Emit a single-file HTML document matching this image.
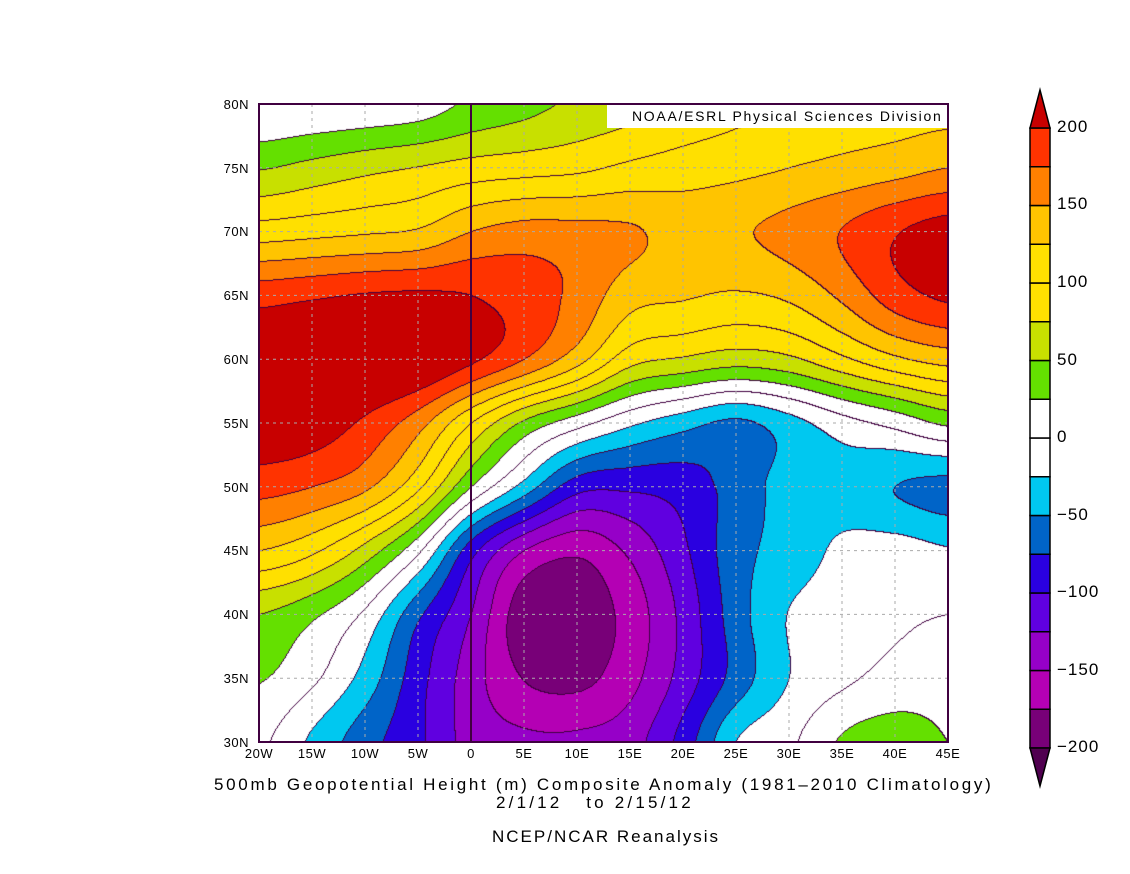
<!DOCTYPE html>
<html><head><meta charset="utf-8"><style>
body{margin:0;background:#fff;width:1130px;height:874px;position:relative;overflow:hidden;font-family:"Liberation Sans",sans-serif;}
.t{position:absolute;color:#000;white-space:nowrap;}
.yl{position:absolute;right:881px;font-size:13px;letter-spacing:0.5px;}
.xl{position:absolute;top:746px;font-size:13px;transform:translateX(-50%);letter-spacing:0.5px;}
.cl{position:absolute;left:1057px;font-size:17px;letter-spacing:1px;}
</style></head><body>
<canvas id="c" width="689" height="638" style="position:absolute;left:259px;top:104px"></canvas>
<svg width="1130" height="874" style="position:absolute;left:0;top:0">
<g id="grid" stroke="#aaa" stroke-dasharray="3,4" stroke-width="1"></g>
<line x1="471" y1="104" x2="471" y2="742" stroke="#400040" stroke-width="2"/>
<rect x="259" y="104" width="689" height="638" fill="none" stroke="#400040" stroke-width="2"/>
<rect x="607" y="105" width="340" height="23" fill="#fff"/>
<g id="cb"></g>
</svg>
<div class="t" style="left:632px;top:108px;font-size:14px;letter-spacing:1.7px">NOAA/ESRL Physical Sciences Division</div>
<div class="yl" style="top:97px">80N</div><div class="yl" style="top:161px">75N</div><div class="yl" style="top:224px">70N</div><div class="yl" style="top:288px">65N</div><div class="yl" style="top:352px">60N</div><div class="yl" style="top:416px">55N</div><div class="yl" style="top:480px">50N</div><div class="yl" style="top:543px">45N</div><div class="yl" style="top:607px">40N</div><div class="yl" style="top:671px">35N</div><div class="yl" style="top:735px">30N</div>
<div class="xl" style="left:259px">20W</div><div class="xl" style="left:312px">15W</div><div class="xl" style="left:365px">10W</div><div class="xl" style="left:418px">5W</div><div class="xl" style="left:471px">0</div><div class="xl" style="left:524px">5E</div><div class="xl" style="left:577px">10E</div><div class="xl" style="left:630px">15E</div><div class="xl" style="left:683px">20E</div><div class="xl" style="left:736px">25E</div><div class="xl" style="left:789px">30E</div><div class="xl" style="left:842px">35E</div><div class="xl" style="left:895px">40E</div><div class="xl" style="left:948px">45E</div>
<div class="t" style="left:214px;top:775px;font-size:17px;letter-spacing:2.7px">500mb Geopotential Height (m) Composite Anomaly (1981&#8211;2010 Climatology)</div>
<div class="t" style="left:496px;top:793px;font-size:17px;letter-spacing:3.2px">2/1/12&nbsp;&nbsp;&nbsp;to 2/15/12</div>
<div class="t" style="left:492px;top:827px;font-size:17px;letter-spacing:2px">NCEP/NCAR Reanalysis</div>
<div class="cl" style="top:117px">200</div><div class="cl" style="top:194px">150</div><div class="cl" style="top:272px">100</div><div class="cl" style="top:350px">50</div><div class="cl" style="top:427px">0</div><div class="cl" style="top:505px">&#8722;50</div><div class="cl" style="top:582px">&#8722;100</div><div class="cl" style="top:660px">&#8722;150</div><div class="cl" style="top:737px">&#8722;200</div>
<script>
var G=[
[0,3,6,12,30,42,55,65,80,92,100,108,112,115],
[48,58,68,76,85,90,95,105,112,118,125,132,140,150],
[112,117,122,128,150,160,158,153,142,147,158,176,198,212],
[190,196,202,204,200,188,168,135,128,122,130,155,188,205],
[224,230,232,228,205,175,135,85,72,62,70,95,120,135],
[220,215,195,160,100,45,10,-20,-40,-55,-35,-10,8,30],
[185,175,155,105,25,-35,-90,-95,-88,-65,-40,-35,-50,-58],
[125,105,65,5,-90,-150,-170,-145,-105,-60,-40,-20,-15,-23],
[50,30,-5,-70,-125,-190,-192,-165,-118,-62,-24,-12,-5,0],
[27,5,-35,-90,-138,-176,-182,-158,-115,-65,-25,-5,8,15],
[5,-30,-65,-95,-135,-145,-145,-135,-90,-25,-5,28,38,25]];
var cols=["#500050","#780078","#b400b4","#9600c8","#6000e0","#2a00e0","#0064c8","#00c8f0","#ffffff","#ffffff","#64e000","#c8e000","#ffe000","#ffe000","#ffc400","#ff8000","#ff3300","#c80000"];
function g(r,c){r=Math.max(0,Math.min(10,r));c=Math.max(0,Math.min(13,c));return G[r][c];}
function cr(p0,p1,p2,p3,t){return 0.5*((2*p1)+(-p0+p2)*t+(2*p0-5*p1+4*p2-p3)*t*t+(-p0+3*p1-3*p2+p3)*t*t*t);}
function f(r,c){var r0=Math.floor(r),c0=Math.floor(c),tr=r-r0,tc=c-c0,v=[];
for(var i=-1;i<3;i++){v.push(cr(g(r0+i,c0-1),g(r0+i,c0),g(r0+i,c0+1),g(r0+i,c0+2),tc));}
return cr(v[0],v[1],v[2],v[3],tr);}
var W=689,H=638,cv=document.getElementById('c'),ctx=cv.getContext('2d'),im=ctx.createImageData(W,H),L=new Int16Array(W*H);
for(var y=0;y<H;y++)for(var x=0;x<W;x++){var v=f(y/H*10,x/W*13);var k=Math.floor((v+200)/25)+1;if(k<0)k=0;if(k>17)k=17;L[y*W+x]=k;}
for(var y=0;y<H;y++)for(var x=0;x<W;x++){var i=y*W+x,k=L[i],c=cols[k];
var line=(x<W-1&&L[i+1]!=k)||(y<H-1&&L[i+W]!=k);
var R,Gc,B;if(line){R=64;Gc=0;B=64;}else{R=parseInt(c.substr(1,2),16);Gc=parseInt(c.substr(3,2),16);B=parseInt(c.substr(5,2),16);}
im.data[i*4]=R;im.data[i*4+1]=Gc;im.data[i*4+2]=B;im.data[i*4+3]=255;}
ctx.putImageData(im,0,0);
var gs='';for(var i=1;i<13;i++){var x=259+i*53;if(i!=4)gs+='<line x1="'+x+'" y1="104" x2="'+x+'" y2="742"/>';}
for(var j=1;j<10;j++){var y=104+j*63.8;gs+='<line x1="259" y1="'+y+'" x2="948" y2="'+y+'"/>';}
document.getElementById('grid').innerHTML=gs;
var cb='';for(var k=1;k<=16;k++){var y=748-k*38.75;cb+='<rect x="1030" y="'+y+'" width="20" height="38.75" fill="'+cols[k]+'" stroke="#000" stroke-width="1.5"/>';}
cb+='<polygon points="1030,128 1050,128 1040,90" fill="'+cols[17]+'" stroke="#000" stroke-width="1.5"/>';
cb+='<polygon points="1030,748 1050,748 1040,786" fill="'+cols[0]+'" stroke="#000" stroke-width="1.5"/>';
document.getElementById('cb').innerHTML=cb;
</script>
</body></html>
